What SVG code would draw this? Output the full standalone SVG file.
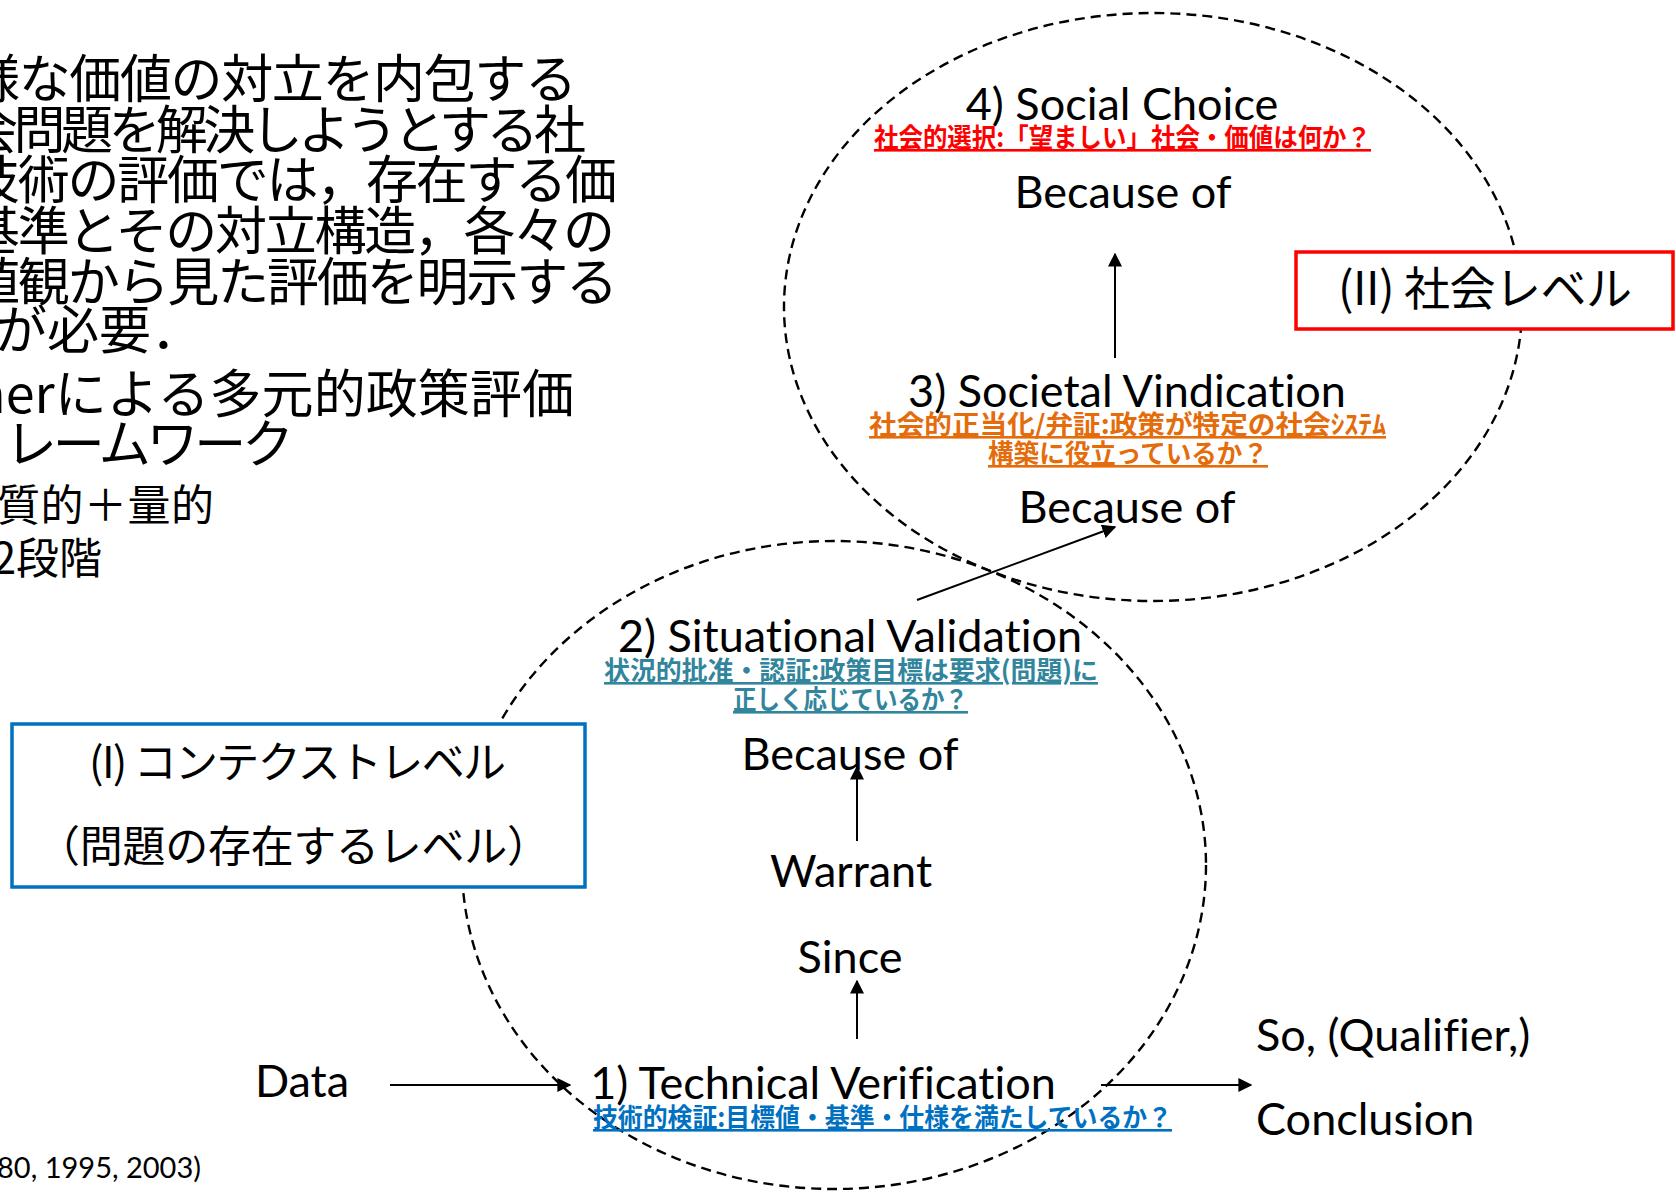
<svg xmlns="http://www.w3.org/2000/svg" width="1676" height="1192" viewBox="0 0 1676 1192">
<style>
.en{font-family:Lato,"Open Sans","Liberation Sans",sans-serif;font-size:45px;fill:#000;font-variant-ligatures:none;font-feature-settings:"liga" 0,"dlig" 0}
.jp{font-family:"Noto Sans CJK JP","Noto Sans",sans-serif;fill:#000}
.big{font-size:52px}
.mid{font-size:43px}
.sub{font-family:"Noto Sans CJK JP",sans-serif;font-weight:700;font-size:26px;text-decoration:underline}
.ell{fill:none;stroke:#000;stroke-width:2.4;stroke-dasharray:10 6}
.conn{stroke:#000;stroke-width:2;fill:none}
.box{fill:#fff;stroke-width:3.5}
</style>
<defs>
<marker id="ah" viewBox="0 0 10 10" refX="9" refY="5" markerWidth="7" markerHeight="7" orient="auto" markerUnits="strokeWidth">
<path d="M0,0 L10,5 L0,10 z" fill="#000"/>
</marker>
</defs>
<rect width="1676" height="1192" fill="#fff"/>

<g id="intro-text" class="jp">
<text class="big" x="-32" y="98" textLength="609" lengthAdjust="spacing">様な価値の対立を内包する</text>
<text class="big" x="-34" y="149" textLength="620" lengthAdjust="spacing">会問題を解決しようとする社</text>
<text class="big" x="-32" y="199" textLength="649" lengthAdjust="spacing">技術の評価では，存在する価</text>
<text class="big" x="-32" y="250" textLength="647" lengthAdjust="spacing">基準とその対立構造，各々の</text>
<text class="big" x="-32" y="301" textLength="650" lengthAdjust="spacing">値観から見た評価を明示する</text>
<text class="big" x="-5" y="349">が必要．</text>
<text class="big" x="-26" y="413" textLength="600" lengthAdjust="spacing">herによる多元的政策評価</text>
<text class="big" x="5" y="463" textLength="289" lengthAdjust="spacing">レームワーク</text>
<text class="mid" x="-3" y="521" textLength="217" lengthAdjust="spacing">質的＋量的</text>
<text class="mid" x="102" y="574" text-anchor="end">2段階</text>
</g>
<g id="citation">
<text class="en" x="201" y="1178" text-anchor="end" style="font-size:29px">80, 1995, 2003)</text>
</g>

<g id="regions">
<ellipse id="upper-ellipse" class="ell" cx="1153" cy="307" rx="369" ry="294"/>
<ellipse id="lower-ellipse" class="ell" cx="834" cy="865" rx="372" ry="324"/>
</g>

<g id="societal-level-box">
<rect class="box" x="1296" y="252" width="377" height="77" stroke="#FF0000"/>
<text class="jp" x="1338" y="305" font-size="46" textLength="294" lengthAdjust="spacing">(II) 社会レベル</text>
</g>
<g id="context-level-box">
<rect class="box" x="12" y="724" width="573" height="163" stroke="#0070C0"/>
<text class="jp" x="89" y="778" font-size="43" textLength="417" lengthAdjust="spacing">(I) コンテクストレベル</text>
<text class="jp" x="37" y="862" font-size="43" textLength="513" lengthAdjust="spacing">（問題の存在するレベル）</text>
</g>

<g id="connectors">
<line class="conn" x1="857" y1="1039" x2="857" y2="981" marker-end="url(#ah)"/>
<line class="conn" x1="857" y1="841" x2="857" y2="767" marker-end="url(#ah)"/>
<line class="conn" x1="917" y1="600" x2="1115" y2="527" marker-end="url(#ah)"/>
<line class="conn" x1="1115" y1="358" x2="1115" y2="254" marker-end="url(#ah)"/>
<line class="conn" x1="390" y1="1085" x2="570" y2="1085" marker-end="url(#ah)"/>
<line class="conn" x1="1101" y1="1085" x2="1251" y2="1085" marker-end="url(#ah)"/>
</g>

<g id="social-choice">
<text class="en" x="1122" y="120" text-anchor="middle">4) Social Choice</text>
<text class="sub" x="874" y="147" fill="#FF0000" textLength="497" lengthAdjust="spacingAndGlyphs">社会的選択:「望ましい」社会・価値は何か？</text>
</g>
<g id="because-of-top"><text class="en" x="1123" y="208" text-anchor="middle">Because of</text></g>

<g id="societal-vindication">
<text class="en" x="1127" y="407" text-anchor="middle">3) Societal Vindication</text>
<text class="sub" x="869" y="434" fill="#E46C0A" textLength="517" lengthAdjust="spacingAndGlyphs">社会的正当化/弁証:政策が特定の社会ｼｽﾃﾑ</text>
<text class="sub" x="988" y="463" fill="#E46C0A" textLength="280" lengthAdjust="spacingAndGlyphs">構築に役立っているか？</text>
</g>
<g id="because-of-mid"><text class="en" x="1127" y="523" text-anchor="middle">Because of</text></g>

<g id="situational-validation">
<text class="en" x="850" y="652" text-anchor="middle">2) Situational Validation</text>
<text class="sub" x="604" y="680" fill="#31859C" textLength="494" lengthAdjust="spacingAndGlyphs">状況的批准・認証:政策目標は要求(問題)に</text>
<text class="sub" x="733" y="709" fill="#31859C" textLength="235" lengthAdjust="spacingAndGlyphs">正しく応じているか？</text>
</g>
<g id="because-of-low"><text class="en" x="850" y="770" text-anchor="middle">Because of</text></g>
<g id="warrant"><text class="en" x="851" y="887" text-anchor="middle">Warrant</text></g>
<g id="since"><text class="en" x="850" y="973" text-anchor="middle">Since</text></g>
<g id="data"><text class="en" x="302" y="1097" text-anchor="middle">Data</text></g>

<g id="technical-verification">
<text class="en" x="823" y="1099" text-anchor="middle">1) Technical Verification</text>
<text class="sub" x="593" y="1127" fill="#0070C0" textLength="579" lengthAdjust="spacingAndGlyphs">技術的検証:目標値・基準・仕様を満たしているか？</text>
</g>

<g id="conclusion">
<text class="en" x="1256" y="1051">So, (Qualifier,)</text>
<text class="en" x="1256" y="1135">Conclusion</text>
</g>
</svg>
